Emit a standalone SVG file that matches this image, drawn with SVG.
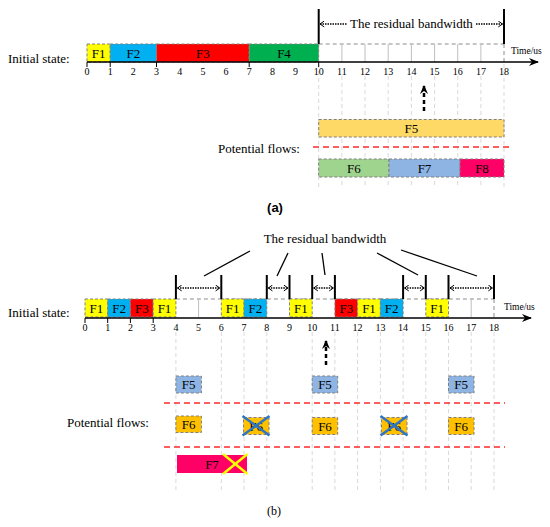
<svg xmlns="http://www.w3.org/2000/svg" width="550" height="527" viewBox="0 0 550 527">
<style>
text{font-family:"Liberation Serif","Times New Roman",serif;fill:#000}
.lbl{font-size:13px}
.fl{font-size:13px;text-anchor:middle}
.tk{font-size:10px;text-anchor:middle}
.tu{font-size:9.5px}
.bar{stroke:#808080;stroke-width:1;stroke-dasharray:3,2}
.grid{stroke:#bfbfbf;stroke-width:1}
.vd{stroke:#d9d9d9;stroke-width:1;stroke-dasharray:4,3}
.topd{stroke:#8c8c8c;stroke-width:1;stroke-dasharray:4,3;fill:none}
.axis{stroke:#000;stroke-width:1.5;marker-end:url(#ax)}
.brk{stroke:#000;stroke-width:2}
.dot{stroke:#000;stroke-width:1.3;stroke-dasharray:1.5,1;marker-start:url(#ch);marker-end:url(#ch)}
.ptr{stroke:#000;stroke-width:1.3}
.red{stroke:#ff2a2a;stroke-width:1.3;stroke-dasharray:6,4}
.up{stroke:#000;stroke-width:2.5;stroke-dasharray:4,3;marker-end:url(#upa)}
.bx{stroke:#2e75c6;stroke-width:2.5}
.yx{stroke:#ffff00;stroke-width:2.5}
</style>
<defs>
<marker id="ax" viewBox="0 0 10 8" refX="9" refY="4" markerWidth="10" markerHeight="8" markerUnits="userSpaceOnUse" orient="auto"><path d="M0,0 L10,4 L0,8 L3,4 Z" fill="#000"/></marker>
<marker id="ch" viewBox="0 0 6 8" refX="5.5" refY="4" markerWidth="5" markerHeight="7" markerUnits="userSpaceOnUse" orient="auto-start-reverse"><path d="M0.5,0.5 L5.5,4 L0.5,7.5" fill="none" stroke="#000" stroke-width="1.2"/></marker>
<marker id="upa" viewBox="0 0 10 8" refX="8" refY="4" markerWidth="10" markerHeight="9" markerUnits="userSpaceOnUse" orient="auto"><path d="M0,0 L9,4 L0,8 L3,4 Z" fill="#000"/></marker>
</defs>

<!-- ===== Part (a) ===== -->
<g id="a-label"><text class="lbl" x="8" y="63">Initial state:</text></g>
<g id="a-grid">
  <line class="vd" x1="318.7" y1="64" x2="318.7" y2="188"/>
  <line class="vd" x1="341.9" y1="76" x2="341.9" y2="188"/>
  <line class="vd" x1="365" y1="76" x2="365" y2="188"/>
  <line class="vd" x1="388.2" y1="76" x2="388.2" y2="188"/>
  <line class="vd" x1="411.4" y1="76" x2="411.4" y2="188"/>
  <line class="vd" x1="434.6" y1="76" x2="434.6" y2="188"/>
  <line class="vd" x1="457.7" y1="76" x2="457.7" y2="188"/>
  <line class="vd" x1="480.9" y1="76" x2="480.9" y2="188"/>
  <line class="vd" x1="504" y1="64" x2="504" y2="188"/>
</g>
<g id="a-F1"><rect class="bar" x="87" y="44" width="23.2" height="18" fill="#ffff00"/><text class="fl" x="98.6" y="58">F1</text></g>
<g id="a-F2"><rect class="bar" x="110.2" y="44" width="46.3" height="18" fill="#00b0f0"/><text class="fl" x="133.3" y="58">F2</text></g>
<g id="a-F3"><rect class="bar" x="156.5" y="44" width="92.7" height="18" fill="#ff0000"/><text class="fl" x="202.9" y="58">F3</text></g>
<g id="a-F4"><rect class="bar" x="249.2" y="44" width="69.5" height="18" fill="#00b050"/><text class="fl" x="284" y="58">F4</text></g>
<g id="a-residual">
  <line class="topd" x1="318.7" y1="44" x2="504" y2="44"/>
  <line class="grid" x1="341.9" y1="44" x2="341.9" y2="62"/>
  <line class="grid" x1="365" y1="44" x2="365" y2="62"/>
  <line class="grid" x1="388.2" y1="44" x2="388.2" y2="62"/>
  <line class="grid" x1="411.4" y1="44" x2="411.4" y2="62"/>
  <line class="grid" x1="434.6" y1="44" x2="434.6" y2="62"/>
  <line class="grid" x1="457.7" y1="44" x2="457.7" y2="62"/>
  <line class="grid" x1="480.9" y1="44" x2="480.9" y2="62"/>
  <line class="topd" x1="504" y1="44" x2="504" y2="62"/>
</g>
<g id="a-axis">
  <line class="axis" x1="87" y1="62" x2="538" y2="62"/>
  <g stroke="#000" stroke-width="1">
    <line x1="87" y1="62" x2="87" y2="67"/><line x1="110.2" y1="62" x2="110.2" y2="67"/><line x1="156.5" y1="62" x2="156.5" y2="67"/><line x1="249.2" y1="62" x2="249.2" y2="67"/><line x1="318.7" y1="62" x2="318.7" y2="67"/>
  </g>
  <text class="tu" x="511" y="54">Time/us</text>
  <text class="tk" x="87" y="75">0</text><text class="tk" x="110.2" y="75">1</text><text class="tk" x="133.3" y="75">2</text><text class="tk" x="156.5" y="75">3</text><text class="tk" x="179.7" y="75">4</text><text class="tk" x="202.9" y="75">5</text><text class="tk" x="226" y="75">6</text><text class="tk" x="249.2" y="75">7</text><text class="tk" x="272.4" y="75">8</text><text class="tk" x="295.5" y="75">9</text><text class="tk" x="318.7" y="75">10</text><text class="tk" x="341.9" y="75">11</text><text class="tk" x="365" y="75">12</text><text class="tk" x="388.2" y="75">13</text><text class="tk" x="411.4" y="75">14</text><text class="tk" x="434.6" y="75">15</text><text class="tk" x="457.7" y="75">16</text><text class="tk" x="480.9" y="75">17</text><text class="tk" x="504" y="75">18</text>
</g>
<g id="a-bandwidth">
  <line class="brk" x1="318.7" y1="9" x2="318.7" y2="44"/>
  <line class="brk" x1="504" y1="9" x2="504" y2="44"/>
  <line class="dot" x1="320" y1="24" x2="347" y2="24" style="marker-end:none"/>
  <line class="dot" x1="476" y1="24" x2="502.5" y2="24" style="marker-start:none"/>
  <text class="lbl" x="411.4" y="28" text-anchor="middle">The residual bandwidth</text>
</g>
<g id="a-uparrow"><line class="up" x1="424" y1="111" x2="424" y2="86"/></g>
<g id="a-potential"><text class="lbl" x="218" y="153">Potential flows:</text></g>
<g id="a-F5"><rect class="bar" x="318.7" y="119.5" width="185.3" height="17.5" fill="#ffd966"/><text class="fl" x="411.4" y="133">F5</text></g>
<line class="red" x1="313" y1="147" x2="512" y2="147"/>
<g id="a-F6"><rect class="bar" x="318.7" y="159" width="70.3" height="18" fill="#9fd48f"/><text class="fl" x="353.8" y="173">F6</text></g>
<g id="a-F7"><rect class="bar" x="389" y="159" width="71" height="18" fill="#8eb4e3"/><text class="fl" x="424.5" y="173">F7</text></g>
<g id="a-F8"><rect class="bar" x="460" y="159" width="44" height="18" fill="#ff0066"/><text class="fl" x="482" y="173">F8</text></g>
<g id="cap-a"><text x="275" y="212" font-size="13" font-weight="bold" text-anchor="middle" style="font-family:'Liberation Sans',Arial,sans-serif">(a)</text></g>

<!-- ===== Part (b) ===== -->
<g id="b-grid">
  <line class="vd" x1="175.9" y1="332" x2="175.9" y2="493"/>
  <line class="vd" x1="221.3" y1="332" x2="221.3" y2="493"/>
  <line class="vd" x1="244" y1="332" x2="244" y2="493"/>
  <line class="vd" x1="266.8" y1="332" x2="266.8" y2="493"/>
  <line class="vd" x1="312.2" y1="332" x2="312.2" y2="493"/>
  <line class="vd" x1="334.9" y1="332" x2="334.9" y2="493"/>
  <line class="vd" x1="357.6" y1="332" x2="357.6" y2="493"/>
  <line class="vd" x1="380.4" y1="332" x2="380.4" y2="493"/>
  <line class="vd" x1="403.1" y1="332" x2="403.1" y2="493"/>
  <line class="vd" x1="425.8" y1="332" x2="425.8" y2="493"/>
  <line class="vd" x1="448.5" y1="332" x2="448.5" y2="493"/>
  <line class="vd" x1="471.2" y1="332" x2="471.2" y2="493"/>
  <line class="vd" x1="494" y1="332" x2="494" y2="493"/>
</g>
<g id="b-label"><text class="lbl" x="8" y="317">Initial state:</text></g>
<g id="b-empty">
  <line class="topd" x1="175.9" y1="299" x2="494" y2="299"/>
  <line class="grid" x1="198.6" y1="299" x2="198.6" y2="317"/>
  <line class="grid" x1="471.2" y1="299" x2="471.2" y2="317"/>
  <line class="topd" x1="494" y1="299" x2="494" y2="317"/>
</g>
<g id="b-bars">
  <g id="b-F1a"><rect class="bar" x="85" y="299" width="22.7" height="18" fill="#ffff00"/><text class="fl" x="96.4" y="313">F1</text></g>
  <g id="b-F2a"><rect class="bar" x="107.7" y="299" width="22.7" height="18" fill="#00b0f0"/><text class="fl" x="119.1" y="313">F2</text></g>
  <g id="b-F3a"><rect class="bar" x="130.4" y="299" width="22.8" height="18" fill="#ff0000"/><text class="fl" x="141.8" y="313">F3</text></g>
  <g id="b-F1b"><rect class="bar" x="153.2" y="299" width="22.7" height="18" fill="#ffff00"/><text class="fl" x="164.5" y="313">F1</text></g>
  <g id="b-F1c"><rect class="bar" x="221.3" y="299" width="22.7" height="18" fill="#ffff00"/><text class="fl" x="232.7" y="313">F1</text></g>
  <g id="b-F2b"><rect class="bar" x="244" y="299" width="22.8" height="18" fill="#00b0f0"/><text class="fl" x="255.4" y="313">F2</text></g>
  <g id="b-F1d"><rect class="bar" x="289.5" y="299" width="22.7" height="18" fill="#ffff00"/><text class="fl" x="300.8" y="313">F1</text></g>
  <g id="b-F3b"><rect class="bar" x="334.9" y="299" width="22.7" height="18" fill="#ff0000"/><text class="fl" x="346.3" y="313">F3</text></g>
  <g id="b-F1e"><rect class="bar" x="357.6" y="299" width="22.8" height="18" fill="#ffff00"/><text class="fl" x="369" y="313">F1</text></g>
  <g id="b-F2c"><rect class="bar" x="380.4" y="299" width="22.7" height="18" fill="#00b0f0"/><text class="fl" x="391.7" y="313">F2</text></g>
  <g id="b-F1f"><rect class="bar" x="425.8" y="299" width="22.7" height="18" fill="#ffff00"/><text class="fl" x="437.2" y="313">F1</text></g>
</g>
<g id="b-axis">
  <line class="axis" x1="85" y1="318" x2="531" y2="318"/>
  <g stroke="#000" stroke-width="1">
    <line x1="85" y1="318" x2="85" y2="323"/><line x1="107.7" y1="318" x2="107.7" y2="323"/><line x1="130.4" y1="318" x2="130.4" y2="323"/><line x1="153.2" y1="318" x2="153.2" y2="323"/>
  </g>
  <text class="tu" x="504" y="310">Time/us</text>
  <text class="tk" x="85" y="331">0</text><text class="tk" x="107.7" y="331">1</text><text class="tk" x="130.4" y="331">2</text><text class="tk" x="153.2" y="331">3</text><text class="tk" x="175.9" y="331">4</text><text class="tk" x="198.6" y="331">5</text><text class="tk" x="221.3" y="331">6</text><text class="tk" x="244" y="331">7</text><text class="tk" x="266.8" y="331">8</text><text class="tk" x="289.5" y="331">9</text><text class="tk" x="312.2" y="331">10</text><text class="tk" x="334.9" y="331">11</text><text class="tk" x="357.6" y="331">12</text><text class="tk" x="380.4" y="331">13</text><text class="tk" x="403.1" y="331">14</text><text class="tk" x="425.8" y="331">15</text><text class="tk" x="448.5" y="331">16</text><text class="tk" x="471.2" y="331">17</text><text class="tk" x="494" y="331">18</text>
</g>
<g id="b-bandwidth">
  <line class="brk" x1="175.9" y1="275" x2="175.9" y2="299"/>
  <line class="brk" x1="221.3" y1="275" x2="221.3" y2="299"/>
  <line class="brk" x1="266.8" y1="275" x2="266.8" y2="299"/>
  <line class="brk" x1="289.5" y1="275" x2="289.5" y2="299"/>
  <line class="brk" x1="312.2" y1="275" x2="312.2" y2="299"/>
  <line class="brk" x1="334.9" y1="275" x2="334.9" y2="299"/>
  <line class="brk" x1="403.1" y1="275" x2="403.1" y2="299"/>
  <line class="brk" x1="425.8" y1="275" x2="425.8" y2="299"/>
  <line class="brk" x1="448.5" y1="275" x2="448.5" y2="299"/>
  <line class="brk" x1="494" y1="275" x2="494" y2="299"/>
  <line class="dot" x1="177.5" y1="288" x2="219.8" y2="288"/>
  <line class="dot" x1="268.3" y1="288" x2="288" y2="288"/>
  <line class="dot" x1="313.7" y1="288" x2="333.4" y2="288"/>
  <line class="dot" x1="404.6" y1="288" x2="424.3" y2="288"/>
  <line class="dot" x1="450" y1="288" x2="492.5" y2="288"/>
  <text class="lbl" x="325" y="243" text-anchor="middle">The residual bandwidth</text>
  <line class="ptr" x1="250" y1="251" x2="204" y2="276"/>
  <line class="ptr" x1="288" y1="253" x2="277" y2="276"/>
  <line class="ptr" x1="322" y1="253" x2="325" y2="275"/>
  <line class="ptr" x1="377" y1="253" x2="418" y2="275"/>
  <line class="ptr" x1="401" y1="250" x2="477" y2="276"/>
</g>
<g id="b-uparrow"><line class="up" x1="326" y1="365" x2="326" y2="341"/></g>
<g id="b-potential"><text class="lbl" x="67" y="427">Potential flows:</text></g>
<g id="b-F5">
  <rect class="bar" x="175.9" y="376" width="25.5" height="17" fill="#8eb4e3"/><text class="fl" x="188.6" y="389">F5</text>
  <rect class="bar" x="312.2" y="376" width="25.5" height="17" fill="#8eb4e3"/><text class="fl" x="325" y="389">F5</text>
  <rect class="bar" x="448.5" y="376" width="25.5" height="17" fill="#8eb4e3"/><text class="fl" x="461.2" y="389">F5</text>
</g>
<line class="red" x1="164" y1="403" x2="505" y2="403"/>
<g id="b-F6">
  <rect class="bar" x="175.9" y="416" width="25.5" height="16.5" fill="#ffc000"/><text class="fl" x="188.6" y="429">F6</text>
  <rect class="bar" x="243.5" y="417.5" width="25.5" height="17" fill="#ffc000"/><text class="fl" x="256.2" y="430.5">F6</text>
  <line class="bx" x1="242.5" y1="416" x2="269.5" y2="435.5"/><line class="bx" x1="242.5" y1="435.5" x2="269.5" y2="416"/>
  <rect class="bar" x="312.2" y="417.5" width="25.5" height="17" fill="#ffc000"/><text class="fl" x="325" y="430.5">F6</text>
  <rect class="bar" x="381.5" y="417.5" width="25.5" height="17" fill="#ffc000"/><text class="fl" x="394.2" y="430.5">F6</text>
  <line class="bx" x1="380.5" y1="416" x2="407.5" y2="435.5"/><line class="bx" x1="380.5" y1="435.5" x2="407.5" y2="416"/>
  <rect class="bar" x="448.5" y="417.5" width="25.5" height="17" fill="#ffc000"/><text class="fl" x="461.2" y="430.5">F6</text>
</g>
<line class="red" x1="164" y1="447" x2="505" y2="447"/>
<g id="b-F7">
  <rect x="177" y="455" width="70" height="18" fill="#ff0066"/><text class="fl" x="212" y="469">F7</text>
  <line class="yx" x1="223" y1="454" x2="247.5" y2="474"/><line class="yx" x1="223" y1="474" x2="247.5" y2="454"/>
</g>
<g id="cap-b"><text x="274" y="515" font-size="12" text-anchor="middle">(b)</text></g>
</svg>
